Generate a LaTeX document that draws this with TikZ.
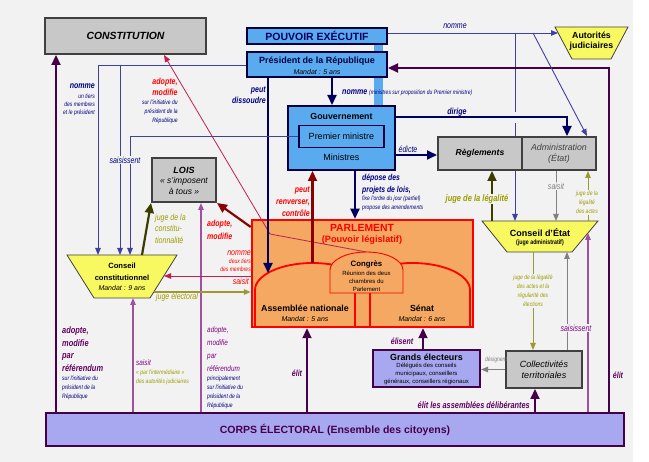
\documentclass[tikz,border=0pt]{standalone}
\usepackage{fontspec}
\setmainfont{Liberation Sans}
\newfontfamily\nf[FakeStretch=0.8]{Liberation Sans}
\usetikzlibrary{arrows.meta,backgrounds}
\definecolor{bgc}{HTML}{F2F2F2}
\definecolor{boxgray}{HTML}{C8C8C8}
\definecolor{bordgray}{HTML}{404040}
\definecolor{execblue}{HTML}{5AAAF0}
\definecolor{navyb}{HTML}{000040}
\definecolor{navy}{HTML}{000060}
\definecolor{thinb}{HTML}{4040A0}
\definecolor{labnavy}{HTML}{000080}
\definecolor{purpd}{HTML}{46004A}
\definecolor{purpt}{HTML}{600060}
\definecolor{lpurp}{HTML}{A050A0}
\definecolor{purpl}{HTML}{800080}
\definecolor{crim}{HTML}{C02050}
\definecolor{dred}{HTML}{8B0000}
\definecolor{olivet}{HTML}{9C9C00}
\definecolor{olivel}{HTML}{9A9A30}
\definecolor{dolive}{HTML}{3C3C00}
\definecolor{grayl}{HTML}{808080}
\definecolor{parlor}{HTML}{F4A862}
\definecolor{yel}{HTML}{F8F860}
\definecolor{lav}{HTML}{A8A8F0}
\tikzset{
 every node/.style={inner sep=0pt},
 gbox/.style={draw=bordgray, line width=2pt, fill=boxgray},
 bbox/.style={draw=navyb, line width=2pt, fill=execblue},
 trap/.style={draw=bordgray, line width=0.8pt, fill=yel},
 lab/.style={font=\nf\fontsize{8.8}{10}\selectfont\itshape},
 blab/.style={font=\nf\fontsize{8.8}{10}\selectfont\bfseries\itshape},
 slab/.style={font=\nf\fontsize{6.3}{9}\selectfont\itshape},
 gap/.style={fill=bgc, inner sep=1pt},
 tn/.style={-{Triangle[length=7pt,width=5.5pt]}, line width=0.9pt},
 tk/.style={-{Triangle[length=10pt,width=9pt]}, line width=2.2pt},
}
\begin{document}
\begin{tikzpicture}[x=1pt,y=-1pt]
\useasboundingbox (0,0) rectangle (649,462);
\begin{scope}[on background layer]
\fill[bgc] (0,0) rectangle (633,462);
\end{scope}

% ---------- boxes ----------
\node[gbox, minimum width=161pt, minimum height=36pt, font=\fontsize{10.4}{12}\selectfont\bfseries\itshape] (const) at (125.5,36) {CONSTITUTION};
\node[bbox, minimum width=140pt, minimum height=16pt, font=\fontsize{10.5}{12}\selectfont\bfseries, text=navy] (pe) at (317,36) {POUVOIR EXÉCUTIF};
\node[bbox, minimum width=140pt, minimum height=25pt] (pres) at (317,64.5) {};
\node[font=\fontsize{9}{10}\selectfont\bfseries, text=navyb] (prest) at (317,61) {Président de la République};
\node[font=\fontsize{7}{8}\selectfont\itshape] (presm) at (317,72) {Mandat : 5 ans};

\node[bbox, minimum width=107pt, minimum height=64pt] (gouv) at (341.5,138) {};
\node[font=\fontsize{8.8}{10}\selectfont\bfseries] (gouvt) at (341.5,116) {Gouvernement};
\node[bbox, line width=1.2pt, minimum width=85pt, minimum height=22pt, font=\fontsize{9}{10}\selectfont] (pm) at (341.5,136.5) {Premier ministre};
\node[font=\fontsize{9}{10}\selectfont] (mins) at (341.5,157) {Ministres};

\node[gbox, minimum width=84pt, minimum height=33pt, font=\fontsize{8.6}{10}\selectfont\bfseries\itshape] (regl) at (480,153.5) {Règlements};
\node[gbox, minimum width=74pt, minimum height=33pt, align=center, font=\fontsize{8.8}{10.5}\selectfont\itshape, text=bordgray] (admin) at (559,153.5) {Administration\\(État)};

\draw[trap] (555,27) -- (628,27) -- (611,59) -- (572,59) -- cycle;
\node[align=center, font=\fontsize{8.8}{10}\selectfont\bfseries] (autjud) at (591.5,41.5) {Autorités\\judiciaires};
\coordinate (ajL) at (558,33);

\draw[trap] (482,221) -- (598,221) -- (572,252) -- (507,252) -- cycle;
\node[font=\fontsize{9}{10}\selectfont\bfseries] (cde) at (540,233) {Conseil d'État};
\node[font=\nf\fontsize{6.6}{7}\selectfont\bfseries] (cdesub) at (540,243) {(juge administratif)};
\coordinate (cdeT) at (540,221);
\coordinate (cdeB) at (540,252);
\coordinate (cdeR) at (588,233);

\draw[trap] (67,255) -- (177,255) -- (150,298) -- (94,298) -- cycle;
\node[align=center, font=\fontsize{7.6}{12}\selectfont\bfseries] (cc) at (122,271.5) {Conseil\\constitutionnel};
\node[font=\fontsize{7}{8}\selectfont\itshape] (ccm) at (122,288) {Mandat : 9 ans};
\coordinate (ccT) at (122,255);
\coordinate (ccB) at (122,298);
\coordinate (ccR1) at (164,276);
\coordinate (ccR2) at (154,292);

\node[gbox, minimum width=64pt, minimum height=44pt] (lois) at (184,180) {};
\node[font=\fontsize{9}{10}\selectfont\bfseries\itshape] (loist) at (184,170) {LOIS};
\node[align=center, font=\fontsize{8.5}{11}\selectfont\itshape] (loiss) at (184,186) {« s'imposent\\à tous »};

\node[draw=red, line width=2.5pt, fill=parlor, minimum width=221pt, minimum height=107pt] (parl) at (362.5,273.5) {};
\draw[red, line width=1.8pt] (255,327) -- (255,290) arc[start angle=180, end angle=360, x radius=57.5, y radius=27] -- (370,327);
\draw[red, line width=1.8pt] (355,327) -- (355,290) arc[start angle=180, end angle=360, x radius=57.5, y radius=27] -- (470,327);
\draw[red, line width=0.9pt, fill=parlor] (330,293) -- (330,270) arc[start angle=180, end angle=360, x radius=36.5, y radius=18] -- (403,293) -- cycle;
\coordinate (congT) at (366.5,252);
\coordinate (anL) at (268,273);
\coordinate (antop) at (312.5,263);
\node[font=\fontsize{10.4}{12}\selectfont\bfseries, text=red] (parlt) at (362,228) {PARLEMENT};
\node[font=\fontsize{9.2}{11}\selectfont\bfseries, text=red] (parls) at (362,240) {(Pouvoir législatif)};
\node[font=\fontsize{7.8}{9}\selectfont\bfseries] (congres) at (366.5,264.5) {Congrès};
\node[align=center, anchor=north, font=\fontsize{6}{7.7}\selectfont] (congs) at (366.5,271) {Réunion des deux\\chambres du\\Parlement};
\node[font=\fontsize{8.8}{10}\selectfont\bfseries] (an) at (305,308) {Assemblée nationale};
\node[font=\fontsize{7}{8}\selectfont\itshape] (anm) at (305,319.5) {Mandat : 5 ans};
\node[font=\fontsize{8.8}{10}\selectfont\bfseries] (senat) at (422,308) {Sénat};
\node[font=\fontsize{7}{8}\selectfont\itshape] (senm) at (422,319.5) {Mandat : 6 ans};

\node[draw=purpd, line width=2pt, fill=lav, minimum width=107pt, minimum height=37pt] (ge) at (426.5,368.5) {};
\node[font=\fontsize{8.9}{10}\selectfont\bfseries] (get) at (426.5,357) {Grands électeurs};
\node[align=center, anchor=north, font=\fontsize{6}{8.2}\selectfont] (ges) at (426.5,362.5) {Délégués des conseils\\municipaux, conseillers\\généraux, conseillers régionaux};

\node[gbox, minimum width=76pt, minimum height=37pt, align=center, font=\fontsize{9}{11}\selectfont\itshape] (coll) at (544,369.5) {Collectivités\\territoriales};

\node[draw=purpd, line width=2.5pt, fill=lav, minimum width=578pt, minimum height=33pt, font=\fontsize{10.5}{12}\selectfont\bfseries, text=purpd] (corps) at (335,429.5) {CORPS ÉLECTORAL (Ensemble des citoyens)};

% ---------- lines behind boxes ----------
\begin{scope}[on background layer]
\draw[execblue, line width=9pt] (378,0|-pe.south) -- (378,0|-gouv.north);
\draw[thinb, line width=0.9pt] (515,0|-ajL) -- (515,112);
\draw[tn, thinb] (515,123) -- (515,0|-cdeT);
\end{scope}

% ---------- connectors ----------
\draw[tk, purpd] (56,0|-corps.north) -- (56,0|-const.south);
\draw[tn, lpurp, line width=1.1pt] (133,0|-corps.north) -- (133,0|-ccB);
\draw[tn, lpurp, line width=1.1pt] (201,0|-corps.north) -- (201,0|-lois.south);
\draw[tn, crim, line width=0.8pt] (congT) -- (270,234) -- (164,0|-const.south);
\draw[tk, purpd] (609,0|-corps.north) -- (609,68) -- (pres.east|-0,68);
\draw[tn, thinb] (pe.east|-0,33) -- (ajL);
\draw[tn, thinb] (533,0|-ajL) -- (587,0|-admin.north);
\draw[tk, navy] (gouv.east|-0,117) -| (567,0|-admin.north);
\draw[tk, navy, line width=1.8pt] (gouv.east|-0,155) -- (regl.west|-0,155);
\draw[tk, navy] (332,0|-pres.south) -- (332,0|-gouv.north);
\draw[tk, navy, line width=1.8pt] (268,0|-pres.south) -- (anL);
\draw[tn, thinb] (pres.west|-0,65) -| (98,0|-ccT);
\draw[tn, thinb] (120,65) -- (120,0|-ccT);
\draw[tn, thinb] (pm.west) -| (130,0|-ccT);
\draw[tk, dolive] (142,0|-ccT) -- (lois.south west);
\draw[tk, dred] (parl.west|-0,227) -- (lois.south east);
\draw[tn, crim] (parl.west|-ccR1) -- (ccR1);
\draw[tn, olivel, line width=1.2pt] (ccR2) -- (parl.west|-ccR2);
\draw[tk, dred] (antop) -- (antop|-gouv.south);
\draw[tk, navy] (355,0|-gouv.south) -- (355,0|-parl.north);
\draw[tk, purpd] (307,0|-corps.north) -- (307,0|-parl.south);
\draw[tk, purpd] (423,0|-ge.north) -- (423,0|-parl.south);
\draw[tn, grayl] (coll.west) -- (ge.east|-coll.west);
\draw[tk, purpd] (535,0|-corps.north) -- (535,0|-coll.south);
\draw[tn, grayl] (567,0|-coll.north) -- (567,0|-cdeB);
\draw[tn, lpurp, line width=1.1pt] (588,0|-corps.north) -- (cdeR);
\draw[tn, olivel] (533,0|-cdeB) -- (533,0|-coll.north);
\draw[tn, grayl] (556,0|-admin.south) -- (556,0|-cdeT);
\draw[tn, olivel] (588,0|-cdeT) -- (588,0|-admin.south);
\draw[tk, dolive] (492,0|-cdeT) -- (492,0|-regl.south);

% ---------- labels ----------
\node[lab, text=labnavy] (l1) at (455,26) {nomme};
\node[blab, text=labnavy, anchor=east] (l2) at (95,86) {nomme};
\node[slab, text=labnavy, anchor=north east, align=right, font=\nf\fontsize{6.3}{8}\selectfont\itshape] (l3) at (95,93.5) {un tiers\\des membres\\et le président};
\node[blab, text=red, anchor=north, align=center, font=\nf\fontsize{8.8}{11}\selectfont\bfseries\itshape] (l4) at (165,77.5) {adopte,\\modifie};
\node[slab, text=labnavy, anchor=north east, align=right] (l5) at (178,99.5) {sur l'initiative du\\président de la\\République};
\node[blab, text=labnavy, anchor=north east, align=right, font=\nf\fontsize{8.8}{11.5}\selectfont\bfseries\itshape] (l6) at (266,86.5) {peut\\dissoudre};
\node[blab, text=labnavy, anchor=west] (l7) at (342,92) {nomme};
\node[slab, text=labnavy, anchor=west] (l8) at (369,92.5) {(ministres sur proposition du Premier ministre)};
\node[blab, text=labnavy] (l9) at (457,112) {dirige};
\node[lab, text=labnavy] (l10) at (408,149) {édicte};
\node[lab, text=labnavy, gap] (l11) at (125,160) {saisissent};
\node[lab, text=olivet, anchor=north west, align=left, font=\nf\fontsize{8.8}{11.5}\selectfont\itshape] (l12) at (155,213.5) {juge de la\\constitu-\\tionnalité};
\node[blab, text=red, anchor=north west, align=left, font=\nf\fontsize{8.8}{13}\selectfont\bfseries\itshape] (l13) at (207,219.5) {adopte,\\modifie};
\node[lab, text=red, anchor=east] (l14) at (251,253) {nomme};
\node[slab, text=red, anchor=north east, align=right, font=\nf\fontsize{6.3}{8}\selectfont\itshape] (l15) at (251,259) {deux tiers\\des membres};
\node[lab, text=red, anchor=east] (l16) at (249,281) {saisit};
\node[lab, text=olivet] (l17) at (177,297.5) {juge électoral};
\node[blab, text=red, anchor=north east, align=right, font=\nf\fontsize{8.8}{12}\selectfont\bfseries\itshape] (l18) at (310,186.5) {peut\\renverser,\\contrôle};
\node[blab, text=labnavy, anchor=north west, align=left, font=\nf\fontsize{8.6}{12}\selectfont\bfseries\itshape] (l19) at (362,173.5) {dépose des\\projets de lois,};
\node[slab, text=labnavy, anchor=north west, align=left] (l20) at (362,195.5) {fixe l'ordre du jour (partiel)\\propose des amendements};
\node[blab, text=olivet, gap, font=\nf\fontsize{9.4}{10}\selectfont\bfseries\itshape] (l21) at (477,199) {juge de la légalité};
\node[lab, text=grayl, gap] (l22) at (556,186) {saisit};
\node[slab, text=olivet, gap, anchor=north, align=center] (l23) at (587,190) {juge de la\\légalité\\des actes};
\node[slab, text=olivet, gap, anchor=north, align=center] (l24) at (533,274) {juge de la légalité\\des actes et la\\régularité des\\élections};
\node[lab, text=purpl, gap] (l25) at (576,328) {saisissent};
\node[slab, text=grayl] (l26) at (496,360) {désignent};
\node[blab, text=purpt] (l27) at (618,375) {élit};
\node[blab, text=purpt, anchor=east, font=\nf\fontsize{9.2}{10}\selectfont\bfseries\itshape] (l28) at (530,405) {élit les assemblées délibérantes};
\node[blab, text=purpt] (l29) at (402,341) {élisent};
\node[blab, text=purpt] (l30) at (297,373) {élit};
\node[blab, text=purpt, anchor=north west, align=left, font=\nf\fontsize{9.3}{12.7}\selectfont\bfseries\itshape] (l31) at (62,326.5) {adopte,\\modifie\\par\\référendum};
\node[slab, text=labnavy, anchor=north west, align=left] (l32) at (62,375.5) {sur l'initiative du\\président de la\\République};
\node[lab, text=purpl, anchor=west, font=\nf\fontsize{8}{10}\selectfont\itshape] (l33) at (136,363) {saisit};
\node[slab, text=olivet, anchor=north west, align=left] (l34) at (136,369.5) {« par l'intermédiaire »\\des autorités judiciaires};
\node[lab, text=purpl, anchor=north west, align=left, font=\nf\fontsize{8}{12.7}\selectfont\itshape] (l35) at (207,327) {adopte,\\modifie\\par\\référendum};
\node[slab, text=labnavy, anchor=north west, align=left] (l36) at (207,375.5) {principalement\\sur l'initiative du\\président de la\\République};
\end{tikzpicture}
\end{document}
